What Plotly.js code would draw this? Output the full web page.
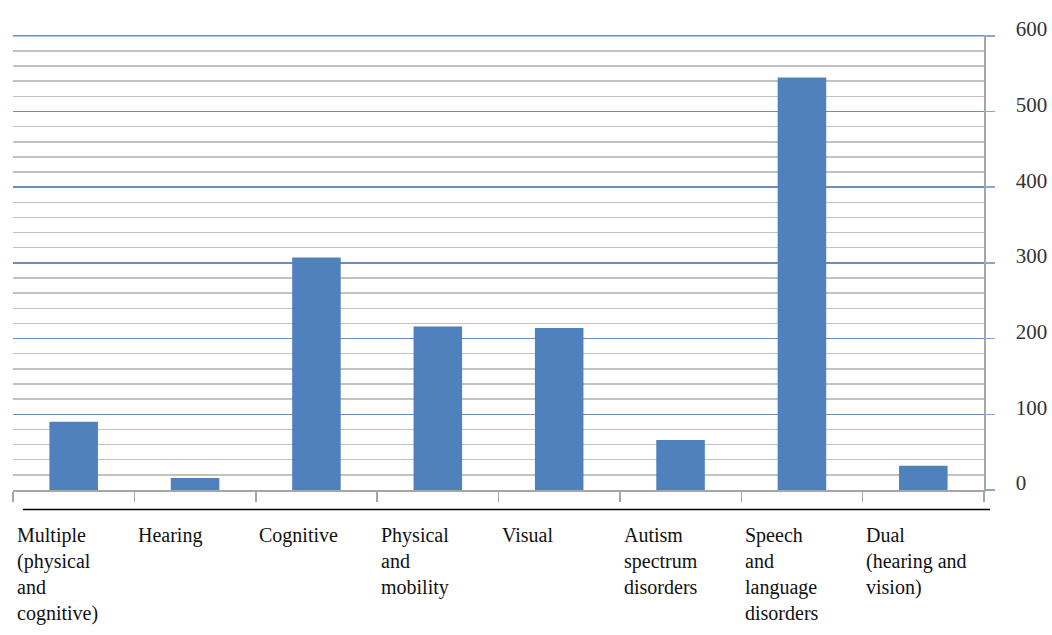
<!DOCTYPE html>
<html>
<head>
<meta charset="utf-8">
<script src="https://cdn.plot.ly/plotly-3.0.1.min.js"></script>
<style>
html,body{margin:0;padding:0;background:#fff;}
#chart{width:1052px;height:635px;}
</style>
</head>
<body>
<div id="chart"></div>
<script>
const categories = [
  "Multiple (physical and cognitive)",
  "Hearing",
  "Cognitive",
  "Physical and mobility",
  "Visual",
  "Autism spectrum disorders",
  "Speech and language disorders",
  "Dual (hearing and vision)"
];
const labelLines = [
  "Multiple<br>(physical<br>and<br>cognitive)",
  "Hearing",
  "Cognitive",
  "Physical<br>and<br>mobility",
  "Visual",
  "Autism<br>spectrum<br>disorders",
  "Speech<br>and<br>language<br>disorders",
  "Dual<br>(hearing and<br>vision)"
];
const values = [90, 16, 307, 216, 214, 66, 545, 32];
const yTickVals = [0, 100, 200, 300, 400, 500, 600];
const yMax = 600;

const serif = "Liberation Serif, Times New Roman, serif";
const majorGrid = "#6a8fbf";

const trace = {
  type: "bar",
  x: categories,
  y: values,
  width: 0.4,
  marker: {color: "#4f81bd"},
  hoverinfo: "x+y"
};

const annotations = categories.map((c, i) => ({
  x: c,
  xref: "x",
  y: -0.07,
  yref: "paper",
  xanchor: "left",
  yanchor: "top",
  align: "left",
  xshift: -59,
  showarrow: false,
  text: labelLines[i],
  font: {family: serif, size: 20, color: "#111"}
}));

const layout = {
  width: 1052,
  height: 635,
  margin: {l: 13, r: 68, t: 35, b: 145},
  paper_bgcolor: "#ffffff",
  plot_bgcolor: "#ffffff",
  showlegend: false,
  xaxis: {
    type: "category",
    showticklabels: false,
    showgrid: false,
    showline: true,
    linecolor: "#a6a6a6",
    linewidth: 1.5,
    ticks: "outside",
    tickson: "boundaries",
    ticklen: 10,
    tickcolor: "#a6a6a6",
    tickwidth: 1.5,
    fixedrange: true
  },
  yaxis: {
    side: "right",
    range: [0, 601],
    tickvals: yTickVals,
    ticktext: yTickVals.map(String),
    showline: true,
    linecolor: "#a6a6a6",
    linewidth: 1.5,
    zeroline: false,
    showgrid: true,
    gridcolor: majorGrid,
    gridwidth: 1.5,
    ticks: "outside",
    ticklen: 9,
    tickcolor: "#8aa6c9",
    tickwidth: 1.5,
    ticklabelstandoff: 17,
    ticklabelshift: -7,
    tickfont: {family: serif, size: 21, color: "#333333"},
    minor: {
      dtick: 20,
      showgrid: true,
      gridcolor: "#c2c2c2",
      gridwidth: 1.5,
      ticks: ""
    },
    fixedrange: true
  },
  shapes: [{
    type: "line",
    xref: "paper",
    yref: "paper",
    x0: 0.0103,
    x1: 1.0062,
    y0: -0.043,
    y1: -0.043,
    line: {color: "#000000", width: 1.5}
  }, {
    type: "line",
    xref: "paper",
    yref: "y",
    x0: 0,
    x1: 1,
    y0: yMax,
    y1: yMax,
    layer: "below",
    line: {color: majorGrid, width: 1.5}
  }],
  annotations: annotations
};

Plotly.newPlot("chart", [trace], layout, {displayModeBar: false, staticPlot: true});
</script>
</body>
</html>
